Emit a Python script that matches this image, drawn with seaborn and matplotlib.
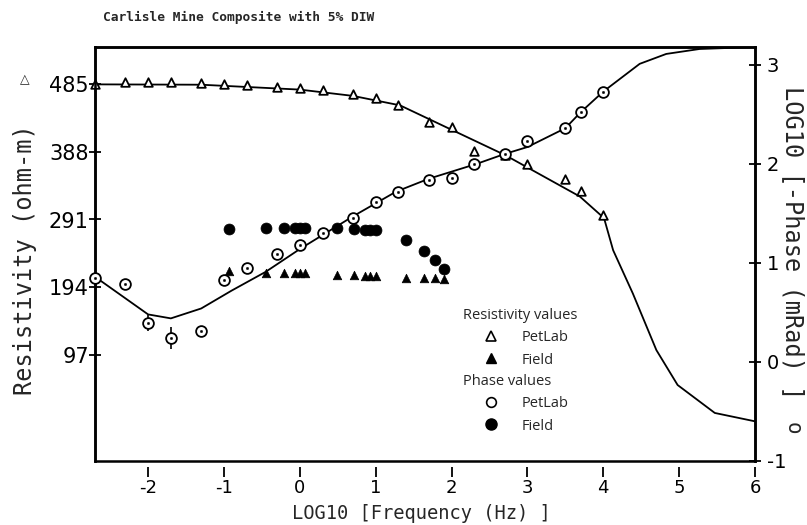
import numpy as np
import pandas as pd
import matplotlib
matplotlib.use("Agg")
import matplotlib.pyplot as plt
import seaborn as sns
from matplotlib.lines import Line2D

# ---------------- data ----------------
# LOG10 frequency of lab (PetLab) measurements
lab_x = [-2.70, -2.30, -2.00, -1.70, -1.30, -1.00, -0.70, -0.30, 0.00, 0.30,
         0.70, 1.00, 1.30, 1.70, 2.00, 2.30, 2.70, 3.00, 3.50, 3.70, 4.00]
# PetLab resistivity (ohm-m)
lab_res = [485, 488, 488, 488, 487, 484.5, 483.5, 481, 479, 476,
           470, 464.5, 455, 430, 423, 389, 383, 370, 348.5, 332, 297]
# PetLab phase, LOG10[-phase (mRad)]
lab_phase = [0.85, 0.79, 0.39, 0.24, 0.31, 0.83, 0.945, 1.09, 1.185, 1.30,
             1.45, 1.61, 1.72, 1.84, 1.86, 2.00, 2.10, 2.23, 2.36, 2.52, 2.73]
lab_phase_err = [0.03, 0.04, 0.08, 0.11, 0.04, 0, 0, 0, 0, 0,
                 0, 0, 0, 0, 0, 0, 0, 0, 0, 0, 0]

# Field measurements
field_x = [-0.93, -0.45, -0.21, -0.07, 0.00, 0.07, 0.49, 0.71, 0.86, 0.92,
           1.00, 1.40, 1.64, 1.78, 1.90]
field_res = [217.5, 214.5, 214, 214, 214, 214, 211.5, 211.5, 210, 210,
             210, 207, 207, 207, 205.5]
field_phase = [1.345, 1.35, 1.357, 1.357, 1.357, 1.357, 1.357, 1.345, 1.336, 1.336,
               1.336, 1.235, 1.124, 1.033, 0.942]

# Model curves
res_model_x = [-2.70, -1.30, 0.00, 0.70, 1.32, 2.71, 3.69, 4.01, 4.13, 4.39,
               4.70, 4.98, 5.47, 6.00]
res_model_v = [484.5, 484, 477, 468, 454.5, 383, 324, 293, 247, 185,
               104, 54, 14, 2]
phase_model_x = [-2.70, -2.00, -1.70, -1.30, -0.90, -0.45, 0.00, 0.70, 1.27, 1.70,
                 2.33, 2.70, 3.00, 3.50, 3.70, 4.00, 4.48, 4.83, 5.27, 6.00]
phase_model_y = [0.86, 0.48, 0.44, 0.54, 0.72, 0.91, 1.14, 1.47, 1.72, 1.85,
                 2.00, 2.10, 2.17, 2.36, 2.52, 2.73, 3.01, 3.11, 3.16, 3.18]

x_ticks = [-2, -1, 0, 1, 2, 3, 4, 5, 6]
res_ticks = [97, 194, 291, 388, 485]
phase_ticks = [-1, 0, 1, 2, 3]

# ---------------- figure ----------------
sns.set_theme(style="ticks")
plt.rcParams['font.family'] = ['DejaVu Sans']
plt.rcParams['axes.unicode_minus'] = False
plt.rcParams['axes.edgecolor'] = 'black'
plt.rcParams['xtick.color'] = 'black'
plt.rcParams['ytick.color'] = 'black'

fig = plt.figure(figsize=(8.07, 5.25), dpi=100)
fig.patch.set_facecolor('white')
ax = fig.add_axes([95/807, 1-461/525, 660/807, 414/525])
ax2 = ax.twinx()

# resistivity (left axis)
sns.lineplot(x=res_model_x, y=res_model_v, ax=ax, color='black', lw=1.3,
             sort=False, estimator=None)
sns.scatterplot(x=lab_x, y=lab_res, ax=ax, marker='^', s=38, color='white',
                edgecolor='black', linewidth=1.3, clip_on=False, zorder=3)
sns.scatterplot(x=field_x, y=field_res, ax=ax, marker='^', s=38, color='black',
                edgecolor='black', linewidth=0.5, zorder=3)

# phase (right axis)
sns.lineplot(x=phase_model_x, y=phase_model_y, ax=ax2, color='black', lw=1.3,
             sort=False, estimator=None)
ax2.errorbar(lab_x, lab_phase, yerr=lab_phase_err, fmt='none', ecolor='black',
             elinewidth=1.2, capsize=0, zorder=2)
sns.scatterplot(x=lab_x, y=lab_phase, ax=ax2, marker='o', s=60, color='white',
                edgecolor='black', linewidth=1.3, clip_on=False, zorder=3)
sns.scatterplot(x=lab_x, y=lab_phase, ax=ax2, marker='o', s=3, color='black',
                edgecolor='black', linewidth=0.3, clip_on=False, zorder=4)
sns.scatterplot(x=field_x, y=field_phase, ax=ax2, marker='o', s=62, color='black',
                edgecolor='black', linewidth=0.5, zorder=3)

# axes limits / ticks
ax.set_xlim(-2.7, 6)
ax.set_ylim(-54.8, 538)
ax2.set_ylim(-1, 3.18)
ax.set_xticks(x_ticks)
ax.set_yticks(res_ticks)
ax2.set_yticks(phase_ticks)

for a in (ax, ax2):
    for sp in a.spines.values():
        sp.set_linewidth(1.8)
        sp.set_color('black')
ax.spines['bottom'].set_position(('outward', 4))
ax.spines['bottom'].set_visible(False)

ax.tick_params(axis='x', direction='out', length=7, width=1.3, labelsize=13, pad=2)
ax.tick_params(axis='y', direction='inout', length=9, width=1.3, labelsize=15, pad=0)
ax2.tick_params(axis='y', direction='inout', length=9, width=1.3, labelsize=14, pad=4)

mono = 'DejaVu Sans Mono'
ax.set_xlabel('LOG10 [Frequency (Hz) ]', family=mono, fontsize=13.5, va='center')
ax.xaxis.set_label_coords(0.4947, -0.1275)
ax.set_ylabel('Resistivity (ohm-m)', family=mono, fontsize=17, va='center')
ax.yaxis.set_label_coords(-0.106, 0.4855)
ax2.set_ylabel('LOG10 [-Phase (mRad) ]', family=mono, fontsize=17, rotation=270,
               va='center')
ax2.yaxis.set_label_coords(1.0576, 0.5266)

fig.text(25/807, 1-80/525, '\u25b3', fontsize=9, ha='center', va='center',
         family='DejaVu Sans')
fig.text(793/807, 1-428/525, 'o', fontsize=15, ha='center', va='center',
         family=mono, rotation=270)

fig.text(103/807, 1-17/525, 'Carlisle Mine Composite with 5% DIW', family=mono,
         fontsize=9.3, weight='bold', ha='left', va='center')

# legends
lfont = {'family': 'Open Sans', 'size': 10.5}
h_lab_res = Line2D([], [], ls='', marker='^', ms=6.5, mfc='white', mec='black', mew=1.2)
h_fld_res = Line2D([], [], ls='', marker='^', ms=6.5, mfc='black', mec='black')
h_lab_ph = Line2D([], [], ls='', marker='o', ms=7, mfc='white', mec='black', mew=1.2)
h_fld_ph = Line2D([], [], ls='', marker='o', ms=8, mfc='black', mec='black')

common = dict(frameon=False, prop=lfont, title_fontproperties=lfont,
              alignment='left', borderpad=0, borderaxespad=0,
              handlelength=3.9, handletextpad=0.15, labelspacing=0.5,
              loc='upper left', bbox_transform=fig.transFigure)
leg1 = ax2.legend(handles=[h_lab_res, h_fld_res], labels=['PetLab', 'Field'],
                  title='Resistivity values',
                  bbox_to_anchor=(463/807, 1-308/525), **common)
ax2.add_artist(leg1)
leg2 = ax2.legend(handles=[h_lab_ph, h_fld_ph], labels=['PetLab', 'Field'],
                  title='Phase values',
                  bbox_to_anchor=(463/807, 1-374/525), **common)

fig.savefig('out.png', dpi=100, facecolor='white')
